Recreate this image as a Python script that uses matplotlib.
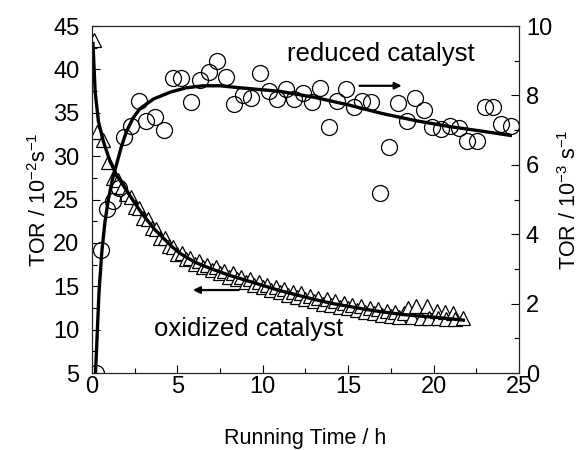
import matplotlib
matplotlib.use("Agg")
import matplotlib.pyplot as plt
from matplotlib.ticker import MultipleLocator

plt.rcParams['font.family'] = ['Liberation Sans', 'DejaVu Sans']
plt.rcParams['mathtext.fontset'] = 'custom'
plt.rcParams['mathtext.rm'] = 'Liberation Sans'
plt.rcParams['mathtext.it'] = 'Liberation Sans'
plt.rcParams['mathtext.default'] = 'regular'

# reduced catalyst (right axis, 10^-3 s^-1)
red_time = [0.2, 0.53, 0.86, 1.21, 1.56, 1.89, 2.26, 2.77, 3.16, 3.69, 4.22, 4.72,
            5.19, 5.78, 6.32, 6.83, 7.32, 7.83, 8.33, 8.82, 9.31, 9.84, 10.34, 10.83,
            11.34, 11.85, 12.36, 12.86, 13.37, 13.89, 14.32, 14.85, 15.34, 15.83,
            16.33, 16.86, 17.39, 17.9, 18.42, 18.93, 19.44, 19.92, 20.43, 20.96,
            21.49, 21.99, 22.52, 23.0, 23.51, 23.98, 24.51]
red_tor = [0.0, 3.56, 4.72, 4.97, 5.32, 6.81, 7.12, 7.84, 7.26, 7.39, 7.0, 8.51,
           8.51, 7.82, 8.44, 8.68, 9.0, 8.52, 7.75, 8.01, 7.92, 8.64, 8.14, 7.89,
           8.2, 7.9, 8.08, 7.82, 8.22, 7.1, 7.85, 8.2, 7.67, 7.85,
           7.82, 5.2, 6.52, 7.77, 7.27, 7.94, 7.58, 7.1, 7.03, 7.12,
           7.05, 6.69, 6.69, 7.66, 7.66, 7.17, 7.12]

# reduced catalyst fitted curve
red_fit_time = [0.2, 0.4, 0.57, 0.75, 0.95, 1.2, 1.45, 1.7, 2.0, 2.4, 2.8, 3.6, 4.6,
                5.5, 6.5, 7.5, 8.7, 11.0, 13.0, 15.0, 17.0, 19.0, 21.0, 23.0, 24.5]
red_fit_tor = [0.0, 2.3, 3.5, 4.35, 5.0, 5.6, 6.05, 6.5, 6.95, 7.35, 7.62, 7.9, 8.1,
               8.22, 8.28, 8.28, 8.22, 8.12, 7.95, 7.73, 7.48, 7.27, 7.1, 6.96, 6.85]

# oxidized catalyst (left axis, 10^-2 s^-1)
ox_time = [0.1, 0.3, 0.65, 0.95, 1.25, 1.5, 1.75, 2.0, 2.25, 2.5, 2.75, 3.0, 3.25,
           3.5, 3.75, 4.0, 4.25, 4.5, 4.75, 5.0, 5.25, 5.5, 5.75, 6.0, 6.25, 6.5,
           6.75, 7.0, 7.25, 7.5, 7.75, 8.0, 8.25, 8.5, 8.75, 9.0, 9.25, 9.5, 9.75,
           10.0, 10.25, 10.5, 10.75, 11.0, 11.25, 11.5, 11.75, 12.0, 12.25, 12.5,
           12.75, 13.0, 13.25, 13.5, 13.75, 14.0, 14.25, 14.5, 14.75, 15.0, 15.25,
           15.5, 15.75, 16.0, 16.25, 16.5, 16.75, 17.0, 17.25, 17.5, 17.75, 18.0,
           18.25, 18.5, 18.75, 19.0, 19.25, 19.6, 19.75, 20.2, 20.25, 20.7, 20.75,
           21.15, 21.25, 21.7]
ox_tor = [43.4, 32.8, 31.9, 29.3, 27.5, 27.2, 26.5, 25.6, 25.3, 24.2, 24.0, 22.9, 22.8,
          21.7, 21.6, 20.6, 20.6, 19.6, 19.5, 18.7, 18.8, 18.1, 18.3, 17.6, 17.9, 17.2,
          17.5, 16.9, 17.2, 16.5, 16.8, 16.1, 16.5, 15.8, 16.1, 15.5, 15.8, 15.1, 15.5,
          14.9, 15.2, 14.6, 14.9, 14.3, 14.7, 14.0, 14.4, 13.8, 14.2, 13.5,
          13.9, 13.3, 13.7, 13.0, 13.5, 12.8, 13.3, 12.6, 13.1, 12.5, 12.9,
          12.3, 12.7, 12.0, 12.5, 11.9, 12.4, 11.7, 12.2, 11.6, 12.0, 11.5,
          11.9, 12.5, 11.5, 12.7, 11.4, 12.7, 11.3, 12.1, 11.3, 12.0, 11.2,
          11.9, 11.2, 11.3]

# oxidized catalyst fitted curve
ox_fit_time = [0.05, 0.18, 0.37, 0.66, 1.05, 1.44, 2.13, 2.91, 3.69, 4.66, 5.15, 6.0,
               7.0, 8.0, 9.0, 10.0, 11.0, 12.0, 13.0, 14.0, 15.0, 16.0, 17.0, 18.0,
               19.0, 20.0, 21.0, 21.75]
ox_fit_tor = [43.0, 37.4, 34.0, 31.7, 29.4, 27.8, 25.7, 23.4, 21.5, 19.6, 18.8, 17.8,
              17.0, 16.3, 15.7, 15.1, 14.5, 14.0, 13.5, 13.05, 12.7, 12.35, 12.05, 11.8,
              11.6, 11.45, 11.25, 11.1]

x_ticks = [0, 5, 10, 15, 20, 25]
left_ticks = [5, 10, 15, 20, 25, 30, 35, 40, 45]
right_ticks = [0, 2, 4, 6, 8, 10]

fig = plt.figure(figsize=(5.83, 4.5), dpi=100)
ax = fig.add_axes([0.158, 0.171, 0.732, 0.771])
ax2 = ax.twinx()

ax.plot(ox_time, ox_tor, linestyle='none', marker='^', markersize=9.5,
        markerfacecolor='white', markeredgecolor='black', markeredgewidth=0.9)
ax.plot(ox_fit_time, ox_fit_tor, color='black', linewidth=2.4)

ax2.plot(red_time, red_tor, linestyle='none', marker='o', markersize=11.5,
         markerfacecolor='none', markeredgecolor='black', markeredgewidth=0.9)
ax2.plot(red_fit_time, red_fit_tor, color='black', linewidth=2.4)

ax.set_xlim(0, 25)
ax.set_ylim(5, 45)
ax2.set_ylim(0, 10)
ax.set_xticks(x_ticks)
ax.set_yticks(left_ticks)
ax2.set_yticks(right_ticks)
ax.xaxis.set_minor_locator(MultipleLocator(2.5))
ax.yaxis.set_minor_locator(MultipleLocator(2.5))
ax2.yaxis.set_minor_locator(MultipleLocator(1))

for a in (ax, ax2):
    a.tick_params(which='major', direction='in', length=6, width=0.8, labelsize=17, pad=5)
    a.tick_params(which='minor', direction='in', length=3.5, width=0.8)
    for s in a.spines.values():
        s.set_linewidth(0.8)
        s.set_color('#222222')
ax.tick_params(axis='x', pad=2)
ax.tick_params(axis='y', pad=9)

ax.set_xlabel('Running Time / h', fontsize=15.5, labelpad=22)
ax.set_ylabel('TOR / 10$^{-2}$s$^{-1}$', fontsize=15.5, labelpad=2)
ax2.set_ylabel('TOR / 10$^{-3}$ s$^{-1}$', fontsize=15.5, labelpad=4)

ax2.text(11.4, 9.2, 'reduced catalyst', fontsize=18.5, ha='left', va='center')
ax.text(3.6, 10.1, 'oxidized catalyst', fontsize=18.5, ha='left', va='center')

ax2.annotate('', xy=(18.3, 8.28), xytext=(15.5, 8.28),
             arrowprops=dict(arrowstyle='-|>', color='black', lw=1.6, mutation_scale=10))
ax.annotate('', xy=(5.74, 14.57), xytext=(8.76, 14.57),
            arrowprops=dict(arrowstyle='-|>', color='black', lw=1.6, mutation_scale=10))

fig.savefig('out.png', dpi=100)
